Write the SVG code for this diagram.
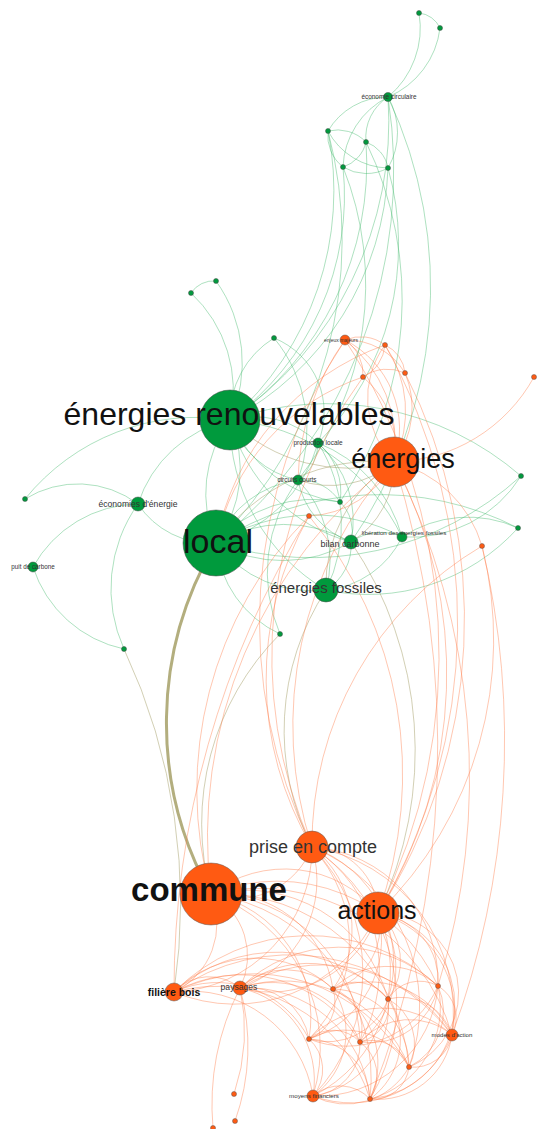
<svg xmlns="http://www.w3.org/2000/svg" width="547" height="1129" viewBox="0 0 547 1129">
<style>
.g{fill:none;stroke:#3fb86a;stroke-opacity:.42;stroke-width:1}
.o{fill:none;stroke:#ff7a45;stroke-opacity:.42;stroke-width:1}
.m{fill:none;stroke:#a6a06a;stroke-opacity:.5;stroke-width:1}
.mt{fill:none;stroke:#b3ae7e;stroke-width:3}
.ng{fill:#009a3d;stroke:#4a4a4a;stroke-width:.5}
.no{fill:#ff5a12;stroke:#5a5a5a;stroke-width:.5}
text{font-family:"Liberation Sans",Arial,sans-serif;text-anchor:middle;fill:#333}
.big{fill:#111}
</style>
<rect width="547" height="1129" fill="#fff"/>
<g id="edges">
<g class="g">
<path d="M419 13A26 26 0 0 1 440 28"/>
<path d="M419 13A90 90 0 0 1 388 97"/>
<path d="M440 28A86 86 0 0 1 388 97"/>
<path d="M388 97A69 69 0 0 0 328 131"/>
<path d="M388 97A48 48 0 0 0 366 142"/>
<path d="M388 97A82 82 0 0 0 343 167"/>
<path d="M388 97A71 71 0 0 1 388 168"/>
<path d="M328 131A40 40 0 0 1 366 142"/>
<path d="M328 131A40 40 0 0 0 343 167"/>
<path d="M328 131A70 70 0 0 0 388 168"/>
<path d="M366 142A34 34 0 0 1 343 167"/>
<path d="M366 142A34 34 0 0 1 388 168"/>
<path d="M343 167A45 45 0 0 0 388 168"/>
<path d="M388 97A360 360 0 0 1 230 420"/>
<path d="M328 131A305 305 0 0 1 230 420"/>
<path d="M366 142A309 309 0 0 1 230 420"/>
<path d="M343 167A277 277 0 0 1 230 420"/>
<path d="M388 168A297 297 0 0 1 230 420"/>
<path d="M328 131A427 427 0 0 1 216 543"/>
<path d="M388 97A478 478 0 0 1 216 543"/>
<path d="M388 168A284 284 0 0 1 318 443"/>
<path d="M343 167A316 316 0 0 1 298 480"/>
<path d="M366 142A361 361 0 0 1 340 502"/>
<path d="M388 97A447 447 0 0 1 351 542"/>
<path d="M216 281A27 27 0 0 0 191 293"/>
<path d="M216 281A140 140 0 0 1 230 420"/>
<path d="M191 293A133 133 0 0 1 230 420"/>
<path d="M274 338A93 93 0 0 0 230 420"/>
<path d="M274 338A80 80 0 0 1 318 443"/>
<path d="M274 338A144 144 0 0 1 298 480"/>
<path d="M25 499A220 220 0 0 1 230 420"/>
<path d="M25 499A100 100 0 0 1 138 504"/>
<path d="M33 567A122 122 0 0 1 138 504"/>
<path d="M33 567A122 122 0 0 0 124 649"/>
<path d="M138 504A146 146 0 0 0 124 649"/>
<path d="M138 504A87 87 0 0 0 216 543"/>
<path d="M230 420A125 125 0 0 0 138 504"/>
<path d="M230 420A124 124 0 0 0 216 543"/>
<path d="M230 420A124 124 0 0 1 216 543"/>
<path d="M230 420A91 91 0 0 1 318 443"/>
<path d="M230 420A91 91 0 0 0 298 480"/>
<path d="M230 420A137 137 0 0 0 340 502"/>
<path d="M230 420A172 172 0 0 0 351 542"/>
<path d="M230 420A208 208 0 0 1 402 537"/>
<path d="M230 420A195 195 0 0 0 326 590"/>
<path d="M230 420A296 296 0 0 1 521 476"/>
<path d="M216 543A143 143 0 0 0 318 443"/>
<path d="M216 543A103 103 0 0 1 298 480"/>
<path d="M216 543A131 131 0 0 1 340 502"/>
<path d="M216 543A135 135 0 0 1 351 542"/>
<path d="M216 543A135 135 0 0 0 351 542"/>
<path d="M216 543A186 186 0 0 1 402 537"/>
<path d="M216 543A120 120 0 0 0 326 590"/>
<path d="M216 543A111 111 0 0 0 280 634"/>
<path d="M521 476A312 312 0 0 1 216 543"/>
<path d="M518 528A302 302 0 0 0 216 543"/>
<path d="M518 528A202 202 0 0 1 326 590"/>
<path d="M402 537A120 120 0 0 1 518 528"/>
<path d="M402 537A130 130 0 0 0 521 476"/>
<path d="M318 443A43 43 0 0 1 298 480"/>
<path d="M318 443A64 64 0 0 1 340 502"/>
<path d="M318 443A103 103 0 0 1 351 542"/>
<path d="M298 480A82 82 0 0 0 351 542"/>
<path d="M298 480A47 47 0 0 1 340 502"/>
<path d="M340 502A41 41 0 0 1 351 542"/>
<path d="M351 542A51 51 0 0 1 402 537"/>
<path d="M351 542A52 52 0 0 1 326 590"/>
<path d="M402 537A94 94 0 0 1 326 590"/>
<path d="M298 480A155 155 0 0 0 280 634"/>
<path d="M318 443A150 150 0 0 1 326 590"/>
<path d="M298 480A115 115 0 0 1 326 590"/>
<path d="M318 443A140 140 0 0 1 402 537"/>
</g>
<g class="m">
<path d="M230 420A169 169 0 0 0 394 462"/>
<path d="M216 543A196 196 0 0 1 394 462"/>
<path d="M394 462A91 91 0 0 1 351 542"/>
<path d="M394 462A145 145 0 0 0 326 590"/>
<path d="M394 462A98 98 0 0 1 298 480"/>
<path d="M280 634A269 269 0 0 0 211 894"/>
<path d="M124 649A600 600 0 0 1 174 992"/>
<path d="M326 590A257 257 0 0 0 312 847"/>
<path d="M351 542A372 372 0 0 1 378 913"/>
</g>
<path class="mt" d="M216 543A351 351 0 0 0 211 894"/>
<g class="o">
<path d="M345 340A40 40 0 0 1 385 345"/>
<path d="M345 340A41 41 0 0 1 363 377"/>
<path d="M345 340A68 68 0 0 1 405 373"/>
<path d="M385 345A39 39 0 0 1 363 377"/>
<path d="M385 345A34 34 0 0 1 405 373"/>
<path d="M363 377A42 42 0 0 1 405 373"/>
<path d="M345 340A131 131 0 0 1 394 462"/>
<path d="M345 340A100 100 0 0 1 394 462"/>
<path d="M385 345A117 117 0 0 1 394 462"/>
<path d="M385 345A90 90 0 0 0 394 462"/>
<path d="M405 373A90 90 0 0 1 394 462"/>
<path d="M363 377A90 90 0 0 1 394 462"/>
<path d="M534 377A164 164 0 0 1 394 462"/>
<path d="M385 345A260 260 0 0 0 216 543"/>
<path d="M363 377A222 222 0 0 0 216 543"/>
<path d="M345 340A250 250 0 0 0 298 480"/>
<path d="M394 462A101 101 0 0 1 309 516"/>
<path d="M394 462A122 122 0 0 1 482 546"/>
<path d="M394 462A394 394 0 0 0 312 847"/>
<path d="M394 462A451 451 0 0 1 378 913"/>
<path d="M309 516A390 390 0 0 0 211 894"/>
<path d="M345 340A508 508 0 0 0 312 847"/>
<path d="M363 377A473 473 0 0 0 312 847"/>
<path d="M405 373A541 541 0 0 1 378 913"/>
<path d="M385 345A568 568 0 0 1 378 913"/>
<path d="M345 340A575 575 0 0 1 378 913"/>
<path d="M482 546A381 381 0 0 1 378 913"/>
<path d="M482 546A346 346 0 0 0 312 847"/>
<path d="M309 516A331 331 0 0 0 312 847"/>
<path d="M309 516A403 403 0 0 1 378 913"/>
<path d="M309 516A900 900 0 0 0 174 992"/>
<path d="M394 462A700 700 0 0 1 438 986"/>
<path d="M394 462A950 950 0 0 1 370 1099"/>
<path d="M482 546A850 850 0 0 1 452 1035"/>
<path d="M394 462A469 469 0 0 0 211 894"/>
<path d="M312 847A80 80 0 0 1 211 894"/>
<path d="M312 847A67 67 0 0 1 378 913"/>
<path d="M312 847A144 144 0 0 1 174 992"/>
<path d="M312 847A114 114 0 0 1 240 988"/>
<path d="M312 847A104 104 0 0 1 333 989"/>
<path d="M312 847A122 122 0 0 1 388 999"/>
<path d="M312 847A135 135 0 0 1 438 986"/>
<path d="M312 847A138 138 0 0 1 309 1039"/>
<path d="M312 847A145 145 0 0 1 360 1042"/>
<path d="M312 847A168 168 0 0 1 452 1035"/>
<path d="M312 847A173 173 0 0 1 409 1067"/>
<path d="M312 847A179 179 0 0 1 313 1096"/>
<path d="M312 847A186 186 0 0 1 370 1099"/>
<path d="M211 894A121 121 0 0 1 378 913"/>
<path d="M211 894A76 76 0 0 1 174 992"/>
<path d="M211 894A71 71 0 0 1 240 988"/>
<path d="M211 894A112 112 0 0 1 333 989"/>
<path d="M211 894A148 148 0 0 1 388 999"/>
<path d="M211 894A176 176 0 0 1 438 986"/>
<path d="M211 894A126 126 0 0 1 309 1039"/>
<path d="M211 894A151 151 0 0 1 360 1042"/>
<path d="M211 894A201 201 0 0 1 452 1035"/>
<path d="M211 894A189 189 0 0 1 409 1067"/>
<path d="M211 894A163 163 0 0 1 313 1096"/>
<path d="M211 894A186 186 0 0 1 370 1099"/>
<path d="M378 913A158 158 0 0 1 174 992"/>
<path d="M378 913A113 113 0 0 1 240 988"/>
<path d="M378 913A63 63 0 0 1 333 989"/>
<path d="M378 913A63 63 0 0 1 388 999"/>
<path d="M378 913A68 68 0 0 1 438 986"/>
<path d="M378 913A104 104 0 0 1 309 1039"/>
<path d="M378 913A94 94 0 0 1 360 1042"/>
<path d="M378 913A103 103 0 0 1 452 1035"/>
<path d="M378 913A80 80 0 0 1 409 1067"/>
<path d="M378 913A140 140 0 0 1 313 1096"/>
<path d="M378 913A94 94 0 0 1 370 1099"/>
<path d="M174 992A48 48 0 0 1 240 988"/>
<path d="M174 992A114 114 0 0 1 333 989"/>
<path d="M174 992A154 154 0 0 1 388 999"/>
<path d="M174 992A190 190 0 0 1 438 986"/>
<path d="M174 992A103 103 0 0 1 309 1039"/>
<path d="M174 992A139 139 0 0 1 360 1042"/>
<path d="M174 992A202 202 0 0 1 452 1035"/>
<path d="M174 992A178 178 0 0 1 409 1067"/>
<path d="M174 992A125 125 0 0 1 313 1096"/>
<path d="M174 992A161 161 0 0 1 370 1099"/>
<path d="M240 988A67 67 0 0 1 333 989"/>
<path d="M240 988A107 107 0 0 1 388 999"/>
<path d="M240 988A143 143 0 0 1 438 986"/>
<path d="M240 988A62 62 0 0 1 309 1039"/>
<path d="M240 988A95 95 0 0 1 360 1042"/>
<path d="M240 988A156 156 0 0 1 452 1035"/>
<path d="M240 988A135 135 0 0 1 409 1067"/>
<path d="M240 988A94 94 0 0 1 313 1096"/>
<path d="M240 988A123 123 0 0 1 370 1099"/>
<path d="M240 988A200 200 0 0 1 234 1094"/>
<path d="M240 988A220 220 0 0 1 235 1121"/>
<path d="M240 988A260 260 0 0 0 213 1128"/>
<path d="M333 989A40 40 0 0 1 388 999"/>
<path d="M333 989A76 76 0 0 1 438 986"/>
<path d="M333 989A40 40 0 0 1 309 1039"/>
<path d="M333 989A42 42 0 0 1 360 1042"/>
<path d="M333 989A92 92 0 0 1 452 1035"/>
<path d="M333 989A78 78 0 0 1 409 1067"/>
<path d="M333 989A78 78 0 0 1 313 1096"/>
<path d="M333 989A84 84 0 0 1 370 1099"/>
<path d="M388 999A37 37 0 0 1 438 986"/>
<path d="M388 999A64 64 0 0 1 309 1039"/>
<path d="M388 999A37 37 0 0 1 360 1042"/>
<path d="M388 999A53 53 0 0 1 452 1035"/>
<path d="M388 999A51 51 0 0 1 409 1067"/>
<path d="M388 999A89 89 0 0 1 313 1096"/>
<path d="M388 999A73 73 0 0 1 370 1099"/>
<path d="M438 986A100 100 0 0 1 309 1039"/>
<path d="M438 986A69 69 0 0 1 360 1042"/>
<path d="M438 986A37 37 0 0 1 452 1035"/>
<path d="M438 986A62 62 0 0 1 409 1067"/>
<path d="M438 986A120 120 0 0 1 313 1096"/>
<path d="M438 986A95 95 0 0 1 370 1099"/>
<path d="M309 1039A37 37 0 0 1 360 1042"/>
<path d="M309 1039A103 103 0 0 1 452 1035"/>
<path d="M309 1039A75 75 0 0 1 409 1067"/>
<path d="M309 1039A41 41 0 0 1 313 1096"/>
<path d="M309 1039A62 62 0 0 1 370 1099"/>
<path d="M360 1042A66 66 0 0 1 452 1035"/>
<path d="M360 1042A40 40 0 0 1 409 1067"/>
<path d="M360 1042A52 52 0 0 1 313 1096"/>
<path d="M360 1042A42 42 0 0 1 370 1099"/>
<path d="M452 1035A39 39 0 0 1 409 1067"/>
<path d="M452 1035A109 109 0 0 1 313 1096"/>
<path d="M452 1035A75 75 0 0 1 370 1099"/>
<path d="M409 1067A72 72 0 0 1 313 1096"/>
<path d="M409 1067A36 36 0 0 1 370 1099"/>
<path d="M313 1096A41 41 0 0 1 370 1099"/>
</g>
</g>
<g id="nodes">
<g id="n-g1"><circle class="ng" cx="419" cy="13" r="2.5"/></g>
<g id="n-g2"><circle class="ng" cx="440" cy="28" r="2.5"/></g>
<g id="n-g3"><circle class="ng" cx="328" cy="131" r="2.5"/></g>
<g id="n-g4"><circle class="ng" cx="366" cy="142" r="2.5"/></g>
<g id="n-g5"><circle class="ng" cx="343" cy="167" r="2.5"/></g>
<g id="n-g6"><circle class="ng" cx="388" cy="168" r="2.5"/></g>
<g id="n-g7"><circle class="ng" cx="216" cy="281" r="2.5"/></g>
<g id="n-g8"><circle class="ng" cx="191" cy="293" r="2.5"/></g>
<g id="n-g9"><circle class="ng" cx="274" cy="338" r="2.5"/></g>
<g id="n-g10"><circle class="ng" cx="340" cy="502" r="2.5"/></g>
<g id="n-g11"><circle class="ng" cx="25" cy="499" r="2.5"/></g>
<g id="n-g12"><circle class="ng" cx="521" cy="476" r="2.5"/></g>
<g id="n-g13"><circle class="ng" cx="518" cy="528" r="2.5"/></g>
<g id="n-g14"><circle class="ng" cx="124" cy="649" r="2.5"/></g>
<g id="n-g15"><circle class="ng" cx="280" cy="634" r="2.5"/></g>
<g id="n-o1"><circle class="no" cx="385" cy="345" r="2.5"/></g>
<g id="n-o2"><circle class="no" cx="363" cy="377" r="2.5"/></g>
<g id="n-o3"><circle class="no" cx="405" cy="373" r="2.5"/></g>
<g id="n-o4"><circle class="no" cx="534" cy="377" r="2.5"/></g>
<g id="n-o5"><circle class="no" cx="309" cy="516" r="2.5"/></g>
<g id="n-o6"><circle class="no" cx="482" cy="546" r="2.5"/></g>
<g id="n-o7"><circle class="no" cx="333" cy="989" r="2.5"/></g>
<g id="n-o8"><circle class="no" cx="388" cy="999" r="2.5"/></g>
<g id="n-o9"><circle class="no" cx="438" cy="986" r="2.5"/></g>
<g id="n-o10"><circle class="no" cx="309" cy="1039" r="2.5"/></g>
<g id="n-o11"><circle class="no" cx="360" cy="1042" r="2.5"/></g>
<g id="n-o12"><circle class="no" cx="409" cy="1067" r="2.5"/></g>
<g id="n-o13"><circle class="no" cx="370" cy="1099" r="2.5"/></g>
<g id="n-o14"><circle class="no" cx="234" cy="1094" r="2.5"/></g>
<g id="n-o15"><circle class="no" cx="235" cy="1121" r="2.5"/></g>
<g id="n-o16"><circle class="no" cx="213" cy="1128" r="2.5"/></g>
<g id="n-economie-circulaire"><circle class="ng" cx="388" cy="97" r="4.5"/><text x="389" y="99" font-size="6.4">économie circulaire</text></g>
<g id="n-enjeux-majeurs"><circle class="no" cx="345" cy="340" r="5"/><text x="341" y="342" font-size="5">enjeux majeurs</text></g>
<g id="n-production-locale"><circle class="ng" cx="318" cy="443" r="5"/><text x="318" y="445" font-size="6.5">production locale</text></g>
<g id="n-circuits-courts"><circle class="ng" cx="298" cy="480" r="5"/><text x="297" y="482" font-size="6.4">circuits courts</text></g>
<g id="n-economies-energie"><circle class="ng" cx="138" cy="504" r="7"/><text x="138" y="507" font-size="8.6">économies d'énergie</text></g>
<g id="n-puit-carbone"><circle class="ng" cx="33" cy="567" r="5"/><text x="33" y="569" font-size="6.3">puit de carbone</text></g>
<g id="n-liberation"><circle class="ng" cx="402" cy="537" r="5"/><text x="404" y="535" font-size="6.2">libération des énergies fossiles</text></g>
<g id="n-bilan-carbonne"><circle class="ng" cx="351" cy="542" r="7"/><text x="350" y="547" font-size="9">bilan carbonne</text></g>
<g id="n-energies-fossiles"><circle class="ng" cx="326" cy="590" r="12"/><text x="326" y="593" font-size="15">énergies fossiles</text></g>
<g id="n-energies-renouvelables"><circle class="ng" cx="230" cy="420" r="30"/><text class="big" x="229" y="425" font-size="32">énergies renouvelables</text></g>
<g id="n-energies"><circle class="no" cx="394" cy="462" r="25"/><text class="big" x="403" y="468" font-size="27">énergies</text></g>
<g id="n-local"><circle class="ng" cx="216" cy="543" r="33"/><text class="big" x="218" y="553" font-size="34">local</text></g>
<g id="n-prise-en-compte"><circle class="no" cx="312" cy="847" r="16"/><text x="313" y="853" font-size="18" fill="#222">prise en compte</text></g>
<g id="n-commune"><circle class="no" cx="211" cy="894" r="31"/><text class="big" x="209" y="901" font-size="33" font-weight="bold">commune</text></g>
<g id="n-actions"><circle class="no" cx="378" cy="913" r="21"/><text class="big" x="377" y="919" font-size="25">actions</text></g>
<g id="n-filiere-bois"><circle class="no" cx="174" cy="992" r="9"/><text class="big" x="174" y="996" font-size="10.5" font-weight="bold">filière bois</text></g>
<g id="n-paysages"><circle class="no" cx="240" cy="988" r="7"/><text x="239" y="990" font-size="8.6">paysages</text></g>
<g id="n-modes-action"><circle class="no" cx="452" cy="1035" r="6"/><text x="452" y="1037" font-size="6.1">modes d'action</text></g>
<g id="n-moyens-financiers"><circle class="no" cx="313" cy="1096" r="6"/><text x="314" y="1098" font-size="6.2">moyens financiers</text></g>
</g>
</svg>
